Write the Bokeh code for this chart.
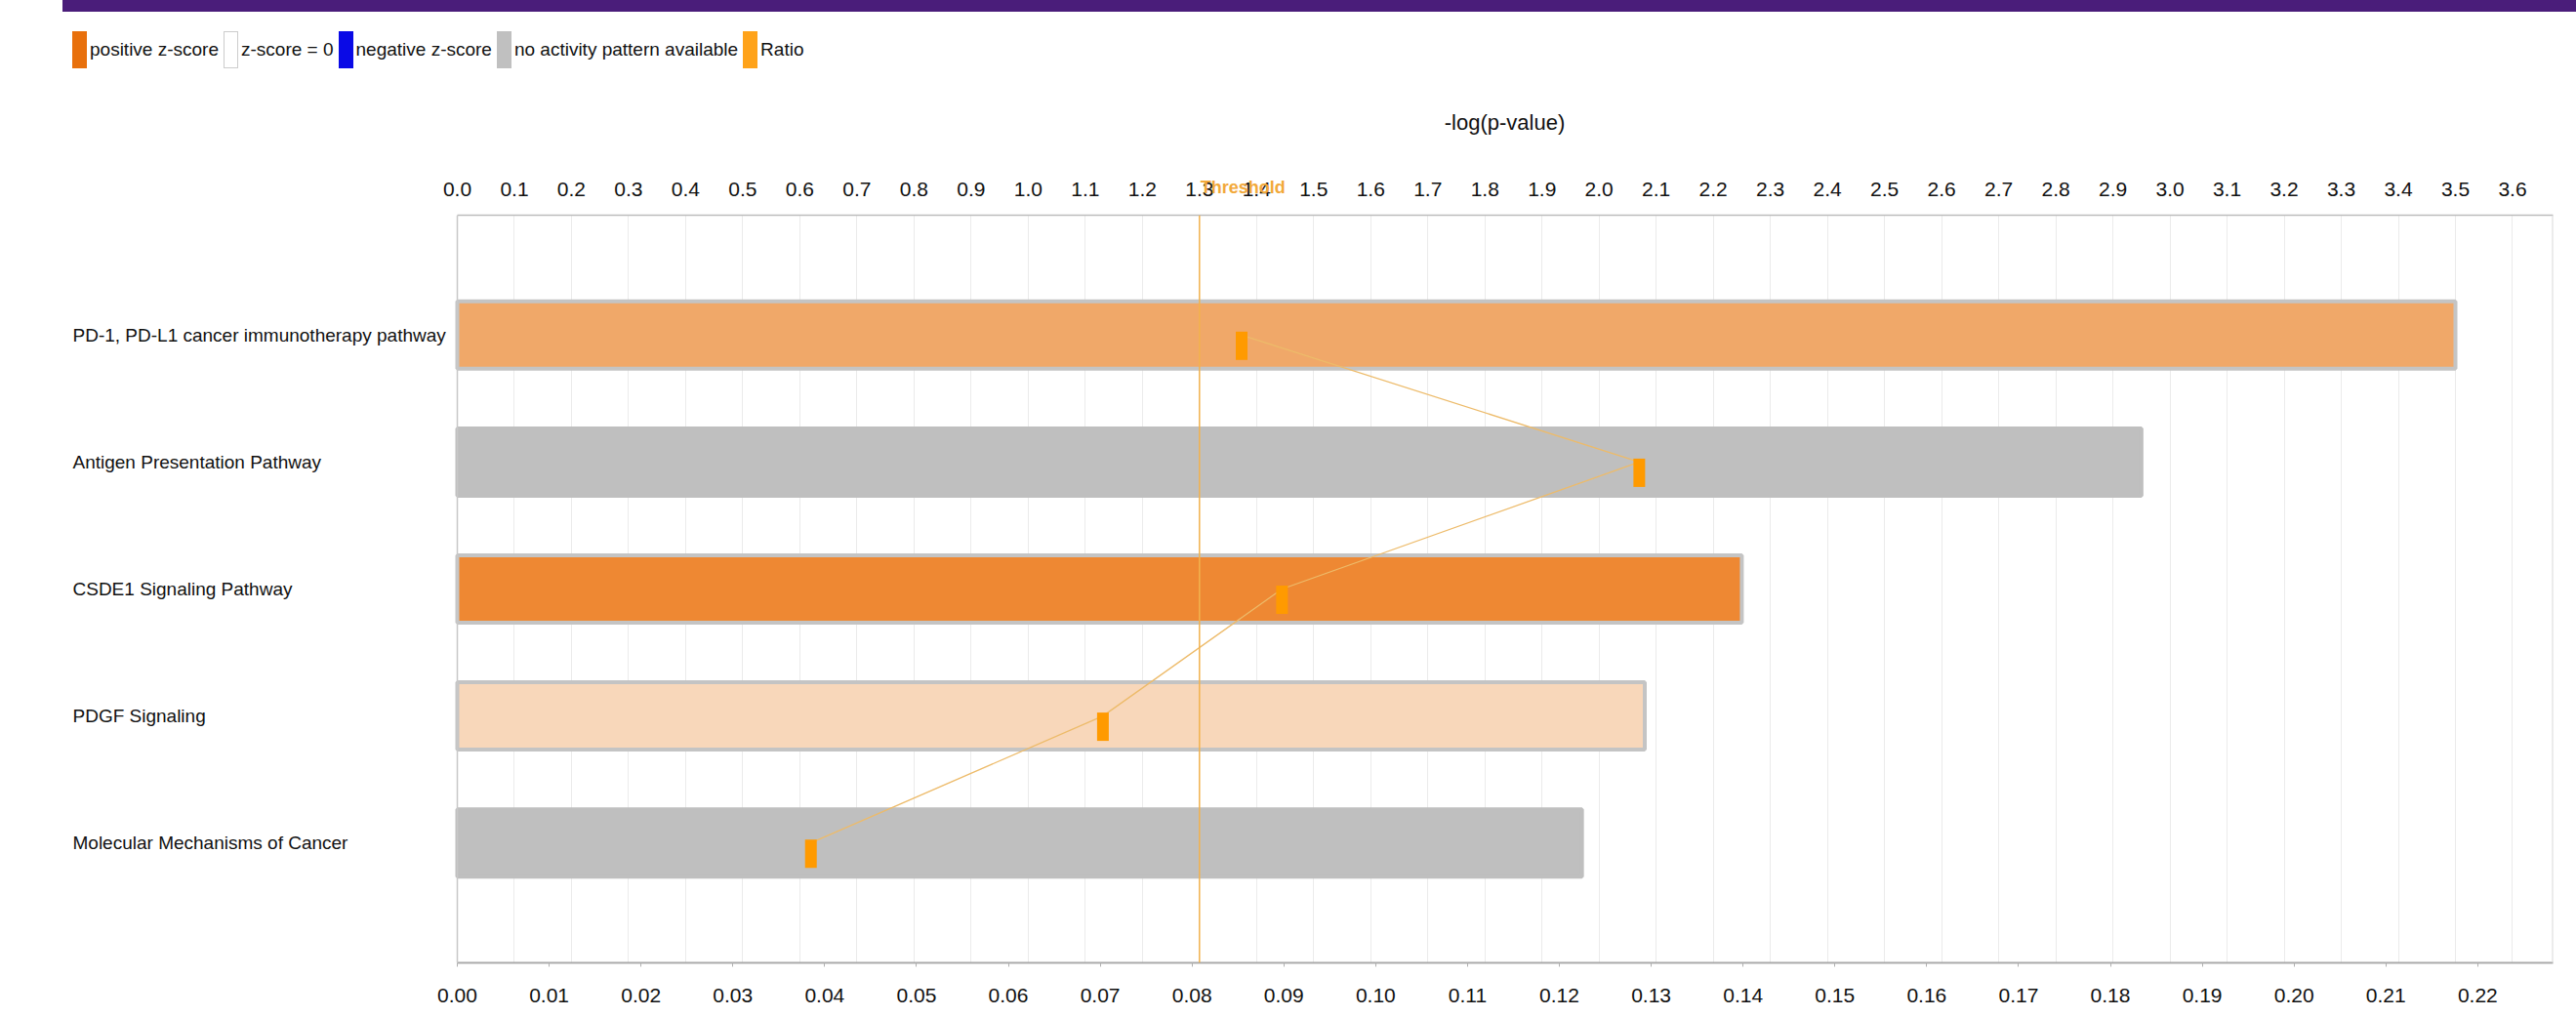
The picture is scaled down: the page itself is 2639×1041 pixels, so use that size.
from bokeh.plotting import figure
from bokeh.layouts import column
from bokeh.models import (Range1d, LinearAxis, FixedTicker, NumeralTickFormatter,
                          Span, Label, Div)
from bokeh.embed import file_html
from bokeh.resources import INLINE

# ---- data -------------------------------------------------------------
pathways = [
    "PD-1, PD-L1 cancer immunotherapy pathway",
    "Antigen Presentation Pathway",
    "CSDE1 Signaling Pathway",
    "PDGF Signaling",
    "Molecular Mechanisms of Cancer",
]
neg_log_p = [3.50, 2.95, 2.25, 2.08, 1.97]
ratio = [0.0854, 0.1287, 0.0898, 0.0703, 0.0385]
activity = ["moderate", "none", "strong", "weak", "none"]
threshold = 1.3

top_ticks = [i / 10 for i in range(37)]
bottom_ticks = [i / 100 for i in range(23)]

legend_labels = ["positive z-score", "z-score = 0", "negative z-score",
                 "no activity pattern available", "Ratio"]

# ---- styling ----------------------------------------------------------
FONT = "Liberation Sans"
INK = "#111111"
GRID = "#EBEBEB"
FRAME_LINE = "#C8C8C8"
shade = {"strong": "#EE8833", "moderate": "#F0A869", "weak": "#F8D7BA", "none": "#BFBFBF"}
edge = {"strong": "#C4C4C4", "moderate": "#C4C4C4", "weak": "#C4C4C4", "none": "#BFBFBF"}
swatches = [("#E8700C", "#E8700C"), ("#FFFFFF", "#CCCCCC"), ("#0A0AE6", "#0A0AE6"),
            ("#C0C0C0", "#C0C0C0"), ("#FFA31A", "#FFA31A")]
MARKER = "#FF9A00"

W, H = 2639, 1041
HEAD_H = 145                      # header strip: band, legend, axis title
LEFT, RIGHT, TOP, BOTTOM = 468, 2615, 220, 986   # plot area on the page
X_MAX, R_MAX = 3.671, 0.2282
TOP_STANDOFF = 20

# ---- header strip (HTML) -----------------------------------------------
legend_html = "".join(
    f'<span style="display:inline-block;width:15px;height:38px;box-sizing:border-box;'
    f'background:{fc};border:1px solid {lc};margin-right:3px;"></span>'
    f'<span style="margin-right:5px;">{lab}</span>'
    for lab, (fc, lc) in zip(legend_labels, swatches))
header_html = (
    f'<div style="position:relative;width:{W}px;height:{HEAD_H}px;'
    f'font-family:\'{FONT}\';color:{INK};">'
    f'<div style="position:absolute;left:64px;top:0;width:{W - 64}px;height:12px;'
    f'background:#4A1D7A;"></div>'
    f'<div style="position:absolute;left:74px;top:32px;height:38px;display:flex;'
    f'align-items:center;font-size:19px;white-space:nowrap;">{legend_html}</div>'
    f'<div style="position:absolute;left:{LEFT}px;width:{RIGHT - LEFT}px;top:113px;'
    f'line-height:26px;font-size:22px;text-align:center;">-log(p-value)</div>'
    f'</div>')
header = Div(text=header_html, width=W, height=HEAD_H, margin=0)

# ---- main chart -------------------------------------------------------
n = len(pathways)
rows = list(range(n - 1, -1, -1))          # first pathway drawn on top
pad = 0.944
y_lo, y_hi = -pad, n - 1 + pad
px_row = (BOTTOM - TOP) / (y_hi - y_lo)
px_x = (RIGHT - LEFT) / X_MAX
px_r = (RIGHT - LEFT) / R_MAX

# the frame reaches the left page edge so the pathway names sit inside it
p = figure(width=W, height=H - HEAD_H, output_backend="svg", toolbar_location=None,
           x_range=Range1d(-LEFT / px_x, X_MAX), y_range=Range1d(y_lo, y_hi),
           x_axis_location="above", y_axis_location=None,
           min_border_left=0, min_border_right=W - RIGHT,
           min_border_top=TOP - HEAD_H, min_border_bottom=H - BOTTOM, margin=0)
p.extra_x_ranges = {"ratio": Range1d(-LEFT / px_r, R_MAX)}
p.outline_line_color = None

# top axis: -log(p-value)
top_ticker = FixedTicker(ticks=top_ticks)
ax = p.xaxis[0]
ax.ticker = top_ticker
ax.bounds = (0, X_MAX)
ax.formatter = NumeralTickFormatter(format="0.0")
ax.major_tick_in = 0
ax.major_tick_out = 0
ax.minor_tick_line_color = None
ax.axis_line_color = "#BDBDBD"
ax.axis_line_width = 1.5
ax.major_label_text_font = FONT
ax.major_label_text_font_size = "21px"
ax.major_label_text_color = INK
ax.major_label_standoff = TOP_STANDOFF

# threshold caption on the tick-label row (outer panel, pulled back to that row)
thr_w = 87                                  # caption width in px
thr_pos = threshold + (thr_w / 2 + 1) / px_x
top_axis_h = TOP_STANDOFF + 24
thr_ax = LinearAxis(ticker=FixedTicker(ticks=[thr_pos]),
                    major_label_overrides={thr_pos: "Threshold"})
thr_ax.axis_line_color = None
thr_ax.major_tick_line_color = None
thr_ax.minor_tick_line_color = None
thr_ax.major_label_standoff = TOP_STANDOFF - top_axis_h
thr_ax.major_label_text_font = FONT
thr_ax.major_label_text_font_size = "18px"
thr_ax.major_label_text_font_style = "bold"
thr_ax.major_label_text_color = "#F2A93B"
p.add_layout(thr_ax, "above")

# vertical grid only, at the -log(p-value) ticks
for g in p.grid:
    if g.dimension == 0:
        g.ticker = top_ticker
        g.grid_line_color = GRID
    else:
        g.visible = False

# bottom axis: ratio
bx = LinearAxis(x_range_name="ratio", ticker=FixedTicker(ticks=bottom_ticks),
                formatter=NumeralTickFormatter(format="0.00"), bounds=(0, R_MAX))
bx.major_tick_in = 0
bx.major_tick_out = 4
bx.major_tick_line_color = "#B0B0B0"
bx.minor_tick_line_color = None
bx.axis_line_color = "#ABABAB"
bx.axis_line_width = 2
bx.major_label_text_font = FONT
bx.major_label_text_font_size = "21px"
bx.major_label_text_color = INK
bx.major_label_standoff = 22
p.add_layout(bx, "below")

# left and right edges of the plot area
p.add_layout(Span(location=0, dimension="height", line_color=FRAME_LINE, line_width=1.5))
p.add_layout(Span(location=X_MAX, dimension="height", line_color="#DADADA", line_width=2))

# bars
p.hbar(y=rows, left=0, right=neg_log_p, height=0.53,
       fill_color=[shade[a] for a in activity],
       line_color=[edge[a] for a in activity], line_width=4)

# threshold line
p.add_layout(Span(location=threshold, dimension="height",
                  line_color="#F2B24E", line_width=1.5))

# ratio line and markers
p.line(x=ratio, y=rows, x_range_name="ratio", line_color="#EDBB6A", line_width=1.3)
drop = 11 / px_row
p.rect(x=ratio, y=[r - drop for r in rows], width=12, height=29,
       width_units="screen", height_units="screen",
       x_range_name="ratio", fill_color=MARKER, line_color=None)

# pathway names, left-aligned in the margin
for name, r in zip(pathways, rows):
    p.add_layout(Label(x=0, y=r, x_offset=74 - LEFT, text=name,
                       text_align="left", text_baseline="middle",
                       text_font=FONT, text_font_size="19px", text_color=INK))

layout = column(header, p, spacing=0)
open("out.html", "w").write(file_html(layout, INLINE))
